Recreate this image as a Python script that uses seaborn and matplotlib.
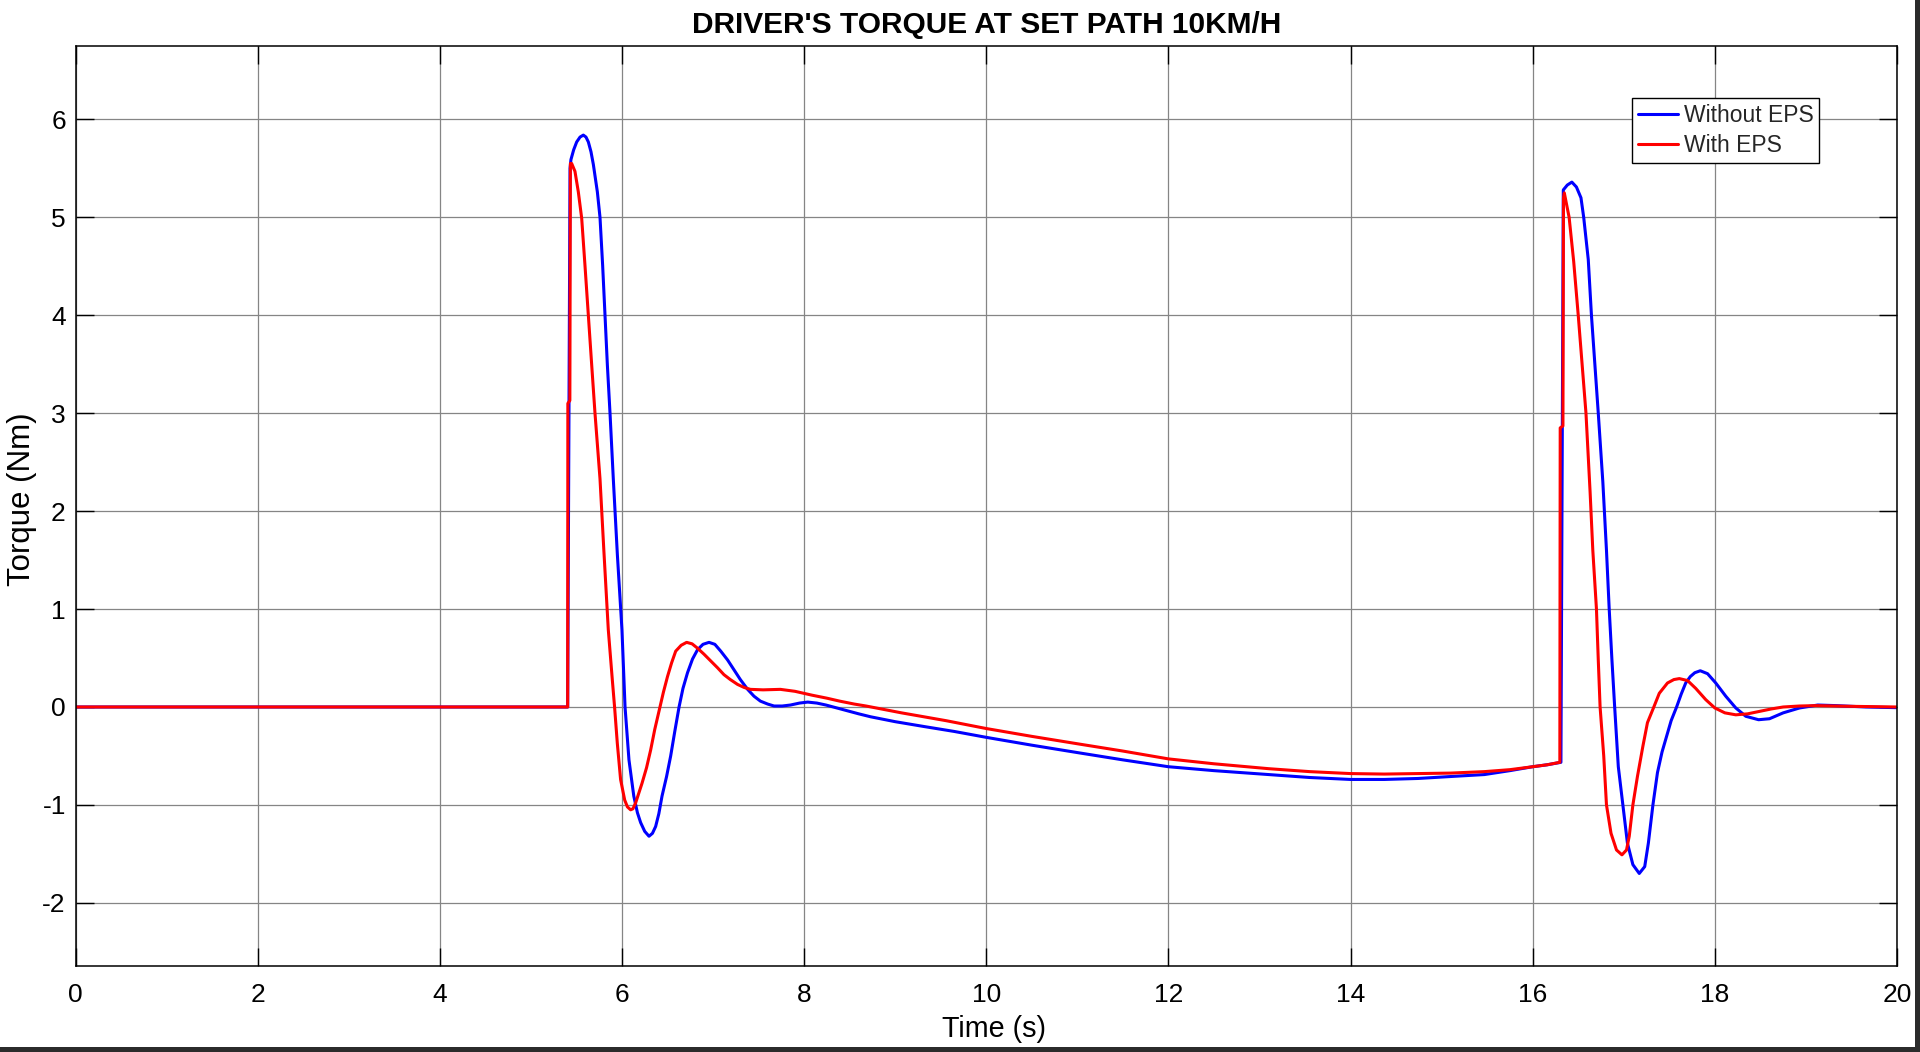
import numpy as np
import pandas as pd
import matplotlib
matplotlib.use("Agg")
import matplotlib.pyplot as plt
from matplotlib.patches import Rectangle
import seaborn as sns

# ---- data ----
title_text = "DRIVER'S TORQUE AT SET PATH 10KM/H"
x_label = "Time (s)"
y_label = "Torque (Nm)"
series_names = ["Without EPS", "With EPS"]
x_ticks = [0, 2, 4, 6, 8, 10, 12, 14, 16, 18, 20]
y_ticks = [-2, -1, 0, 1, 2, 3, 4, 5, 6]

t_without = [0.0, 5.404, 5.43, 5.44, 5.47, 5.503, 5.54, 5.576, 5.605, 5.631, 5.66,
             5.686, 5.73, 5.759, 5.788, 5.814, 5.84, 5.869, 5.905, 5.95, 6.0,
             6.034, 6.077, 6.13, 6.17, 6.205, 6.25, 6.297, 6.335, 6.37, 6.405, 6.44,
             6.49, 6.535, 6.58, 6.627, 6.67, 6.72, 6.775, 6.83, 6.89, 6.956, 7.02,
             7.085, 7.16, 7.23, 7.30, 7.38, 7.45, 7.52, 7.60, 7.67, 7.76, 7.85,
             7.95, 8.04, 8.14, 8.24, 8.36, 8.48, 8.60, 8.73, 9.0, 9.32, 9.65,
             10.0, 10.5, 11.03, 11.5, 12.0, 12.5, 13.1, 13.55, 14.0, 14.37, 14.74,
             15.1, 15.47, 15.75, 16.0, 16.16, 16.31, 16.336, 16.38, 16.43, 16.48,
             16.53, 16.56, 16.61, 16.645, 16.72, 16.77, 16.81, 16.84, 16.87, 16.90,
             16.94, 16.99, 17.04, 17.10, 17.17, 17.23, 17.27, 17.32, 17.37, 17.42,
             17.47, 17.52, 17.58, 17.63, 17.68, 17.73, 17.78, 17.84, 17.92, 18.01,
             18.12, 18.23, 18.34, 18.48, 18.60, 18.75, 18.93, 19.13, 19.33, 19.66,
             20.0]
v_without = [0.0, 0.0, 5.50, 5.59, 5.69, 5.77, 5.82, 5.84, 5.82, 5.77, 5.67,
             5.54, 5.26, 5.0, 4.51, 4.0, 3.49, 3.0, 2.33, 1.55, 0.79,
             0.0, -0.54, -0.91, -1.08, -1.18, -1.27, -1.32, -1.29, -1.22, -1.09, -0.91,
             -0.71, -0.50, -0.25, 0.0, 0.19, 0.35, 0.49, 0.585, 0.64, 0.66, 0.64,
             0.57, 0.48, 0.38, 0.28, 0.18, 0.11, 0.06, 0.03, 0.01, 0.01, 0.02,
             0.04, 0.05, 0.04, 0.02, -0.01, -0.04, -0.07, -0.10, -0.15, -0.20, -0.25,
             -0.31, -0.39, -0.47, -0.54, -0.61, -0.65, -0.69, -0.72, -0.74, -0.74, -0.73,
             -0.71, -0.69, -0.65, -0.61, -0.59, -0.565, 5.28, 5.33, 5.36, 5.31,
             5.20, 5.0, 4.57, 4.0, 3.0, 2.3, 1.6, 1.0, 0.48, 0.0,
             -0.61, -1.0, -1.39, -1.61, -1.70, -1.63, -1.39, -1.0, -0.67, -0.46,
             -0.30, -0.14, 0.0, 0.13, 0.245, 0.31, 0.35, 0.37, 0.34, 0.245,
             0.11, -0.01, -0.095, -0.13, -0.12, -0.06, -0.01, 0.02, 0.014, 0.0,
             -0.007]

t_with = [0.0, 5.404, 5.406, 5.428, 5.434, 5.448, 5.484, 5.521, 5.558, 5.594, 5.631,
          5.668, 5.704, 5.759, 5.80, 5.85, 5.894, 5.919, 5.949, 5.985, 6.03,
          6.06, 6.095, 6.12, 6.15, 6.22, 6.27, 6.315, 6.36, 6.41, 6.455, 6.50,
          6.545, 6.59, 6.65, 6.71, 6.77, 6.83, 6.90, 6.975, 7.05, 7.12, 7.19,
          7.27, 7.34, 7.41, 7.55, 7.74, 7.90, 8.09, 8.25, 8.39, 8.55, 8.68,
          9.07, 9.56, 10.0, 10.5, 11.03, 11.5, 12.0, 12.5, 13.1, 13.55, 14.0,
          14.37, 14.74, 15.1, 15.47, 15.75, 16.0, 16.16, 16.298, 16.302, 16.332,
          16.338, 16.347, 16.40, 16.45, 16.50, 16.585, 16.63, 16.66, 16.70, 16.72,
          16.74, 16.78, 16.81, 16.86, 16.92, 16.98, 17.03, 17.06, 17.10, 17.15,
          17.21, 17.26, 17.33, 17.39, 17.48, 17.55, 17.61, 17.70, 17.79, 17.90,
          18.0, 18.11, 18.23, 18.36, 18.49, 18.62, 18.75, 18.93, 19.11, 19.48,
          20.0]
v_with = [0.0, 0.0, 3.10, 3.13, 5.55, 5.55, 5.47, 5.26, 4.99, 4.51, 4.0,
          3.49, 3.0, 2.33, 1.62, 0.79, 0.28, 0.0, -0.37, -0.74, -0.95,
          -1.02, -1.05, -1.04, -0.98, -0.78, -0.62, -0.44, -0.23, -0.03, 0.15, 0.31,
          0.45, 0.57, 0.63, 0.66, 0.645, 0.60, 0.54, 0.47, 0.40, 0.33, 0.28,
          0.23, 0.20, 0.18, 0.175, 0.18, 0.16, 0.12, 0.09, 0.06, 0.03, 0.01,
          -0.06, -0.14, -0.22, -0.30, -0.38, -0.45, -0.53, -0.58, -0.63, -0.66, -0.68,
          -0.685, -0.68, -0.675, -0.66, -0.64, -0.61, -0.59, -0.565, 2.85, 2.87,
          5.20, 5.25, 5.0, 4.55, 4.0, 3.0, 2.2, 1.6, 1.0, 0.48,
          0.0, -0.50, -1.0, -1.29, -1.46, -1.51, -1.46, -1.32, -1.0, -0.71,
          -0.40, -0.16, 0.0, 0.14, 0.245, 0.28, 0.29, 0.27, 0.19, 0.075,
          -0.01, -0.06, -0.08, -0.07, -0.045, -0.02, 0.0, 0.01, 0.014, 0.007,
          0.0]

df = pd.concat([
    pd.DataFrame({"t": t_without, "v": v_without, "series": series_names[0]}),
    pd.DataFrame({"t": t_with, "v": v_with, "series": series_names[1]}),
], ignore_index=True)

# ---- style ----
sns.set_theme(style="white")
plt.rcParams["font.family"] = ["Liberation Sans", "DejaVu Sans"]
plt.rcParams["axes.unicode_minus"] = False

W, H = 1920, 1052
fig = plt.figure(figsize=(W / 100, H / 100), dpi=100)
fig.patch.set_facecolor("white")
ax_l, ax_r, ax_t, ax_b = 75.5, 1897, 45.5, 966
ax = fig.add_axes([ax_l / W, 1 - ax_b / H, (ax_r - ax_l) / W, (ax_b - ax_t) / H])

sns.lineplot(data=df, x="t", y="v", hue="series",
             palette={series_names[0]: "#0000ff", series_names[1]: "#ff0000"},
             estimator=None, sort=False, linewidth=2.2, ax=ax)

ax.set_xlim(0, 20)
ax.set_ylim(-2.645, 6.755)
ax.set_xticks(x_ticks)
ax.set_yticks(y_ticks)
ax.set_axisbelow(True)
ax.grid(True, color="#858585", linewidth=0.9)

for s in ax.spines.values():
    s.set_color("black")
    s.set_linewidth(1.1)

ax.tick_params(axis="both", which="both", direction="in", length=13, width=1.0,
               color="black", labelsize=19, labelcolor="black",
               top=True, right=True, bottom=True, left=True)
ax.tick_params(axis="x", pad=12)
ax.tick_params(axis="y", pad=7)

ax.set_title(title_text, fontsize=21.5, fontweight="bold", pad=9, color="black")
ax.set_xlabel(x_label, fontsize=20.7, color="black", va="center")
ax.set_ylabel(y_label, fontsize=22.5, color="black", va="center")
ax.xaxis.set_label_coords(0.504, (ax_b - 1029) / (ax_b - ax_t))
ax.yaxis.set_label_coords((22 - ax_l) / (ax_r - ax_l), 0.507)

handles, labels = ax.get_legend_handles_labels()
leg = ax.legend(handles, labels, loc="upper left",
                bbox_to_anchor=((1632.3 - ax_l) / (ax_r - ax_l), (ax_b - 98.3) / (ax_b - ax_t)),
                borderaxespad=0, fontsize=16.5, frameon=True, fancybox=False,
                framealpha=1, edgecolor="black", handlelength=1.75,
                handletextpad=0.25, borderpad=0.25, labelspacing=0.3)
leg.get_frame().set_linewidth(1.0)
for ln in leg.get_lines():
    ln.set_linewidth(2.2)

# dark screenshot border at the right and bottom
fig.add_artist(Rectangle((1915 / W, 0), 5 / W, 1, transform=fig.transFigure,
                         facecolor="#2b2b2b", edgecolor="none"))
fig.add_artist(Rectangle((0, 0), 1, 5 / H, transform=fig.transFigure,
                         facecolor="#2b2b2b", edgecolor="none"))

fig.savefig("out.png", dpi=100, facecolor="white")
